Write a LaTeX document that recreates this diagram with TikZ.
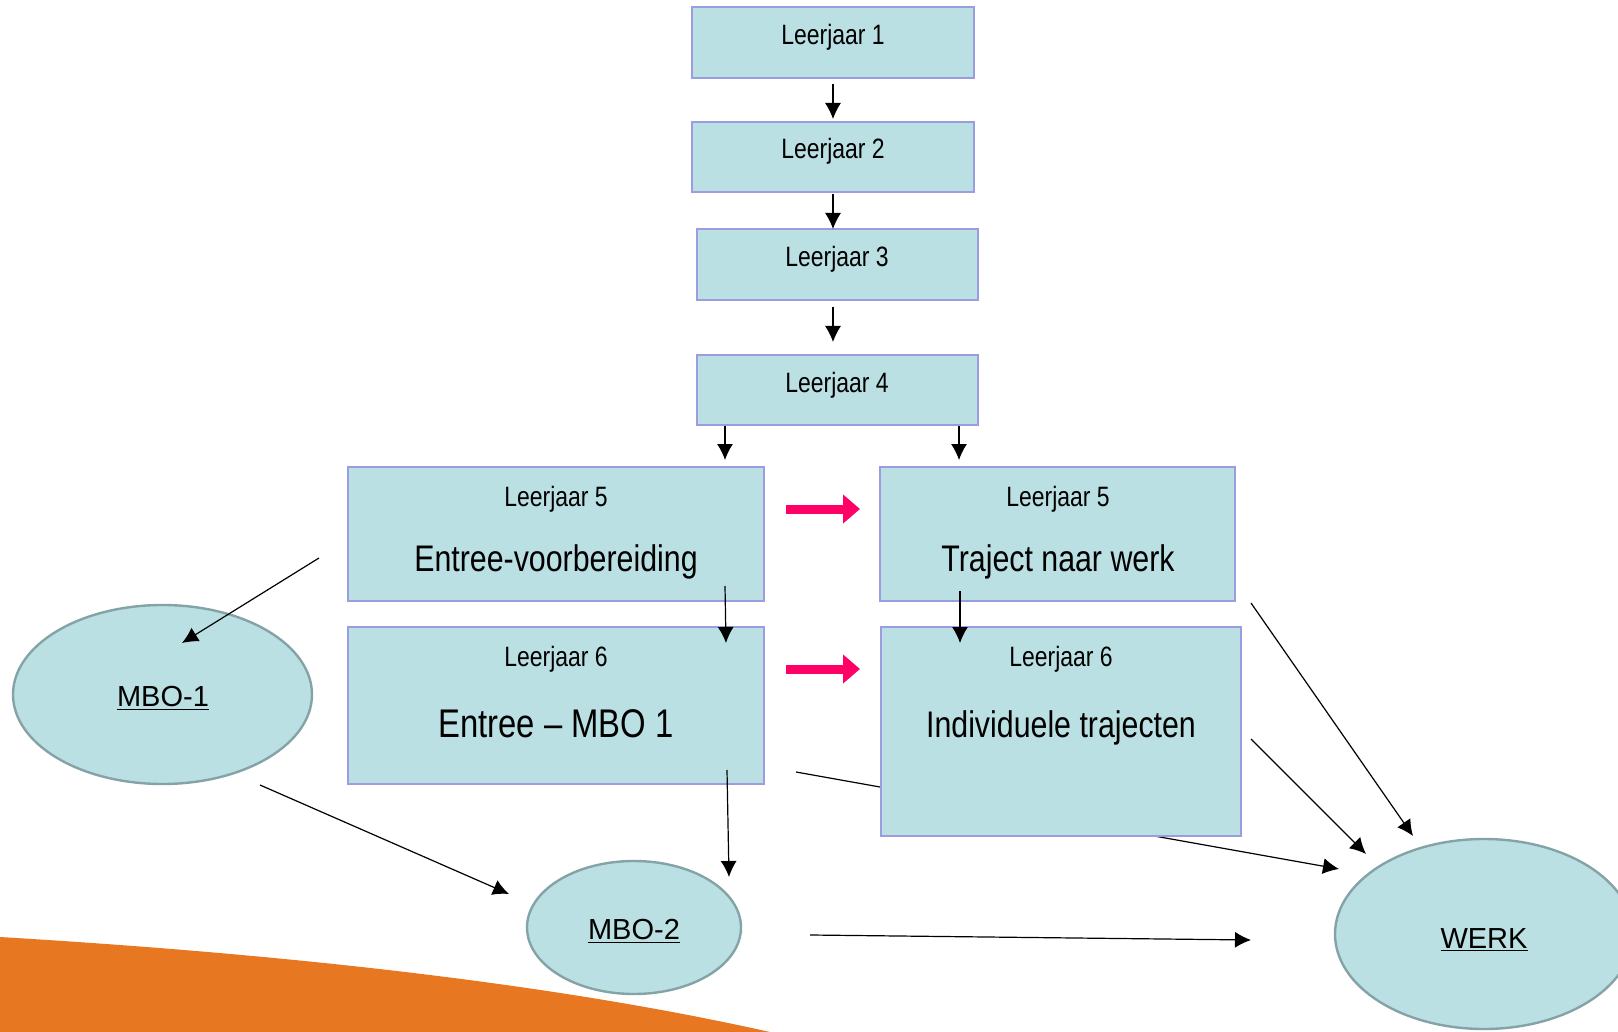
\documentclass[tikz,border=0pt]{standalone}
\usepackage{fontspec}
\setmainfont[FakeStretch=0.82]{Liberation Sans}
\newfontfamily\breedfont{Liberation Sans}
\usetikzlibrary{arrows.meta,shapes.geometric}
\definecolor{vakblauw}{HTML}{BAE0E3}
\definecolor{vakrand}{HTML}{9C9CE0}
\definecolor{ovaalrand}{HTML}{85A3A6}
\definecolor{roze}{HTML}{FF0066}
\definecolor{oranje}{HTML}{E87722}
\tikzset{
  vak/.style={draw=vakrand, fill=vakblauw, line width=1pt, inner sep=0pt, outer sep=0pt},
  ovaal/.style={ellipse, draw=ovaalrand, fill=vakblauw, line width=1.2pt, inner sep=0pt},
  pijl/.style={->, line width=0.6pt},
  dikpijl/.style={-{Triangle[length=8.5pt,width=14pt]}, roze, line width=4.5pt},
  klein/.style={anchor=base, font=\fontsize{14}{16}\selectfont},
  groot/.style={anchor=base, font=\fontsize{18.5}{22}\selectfont},
  onder/.style={anchor=base, font=\breedfont\fontsize{14.5}{17}\selectfont},
}
\begin{document}
\begin{tikzpicture}[x=0.5pt, y=-0.5pt, >={Latex[length=8pt,width=8pt]}]
        \clip (0,0) rectangle (1618,1032);

        % oranje vlak
        \fill[oranje] (0,937) .. controls (300,955) and (560,985) .. (770,1032) -- (0,1032) -- cycle;

        % punten
        \coordinate (v4a) at (725,426);
        \coordinate (t4a) at (725,460);
        \coordinate (v4b) at (959,426);
        \coordinate (t4b) at (959,460);
        \coordinate (v5a) at (725,586);
        \coordinate (t5a) at (726,643);
        \coordinate (v5b) at (960,591);
        \coordinate (t5b) at (960,643);
        \coordinate (s1) at (319,558);
        \coordinate (t1) at (182,643);
        \coordinate (m1) at (260,785);
        \coordinate (t2) at (509,894);
        \coordinate (v6a) at (727,770);
        \coordinate (t6a) at (729,877);
        \coordinate (x1) at (796,772);
        \coordinate (w1) at (1339,869);
        \coordinate (v5w) at (1251,603);
        \coordinate (w2) at (1413,836);
        \coordinate (v6w) at (1251,739);
        \coordinate (w3) at (1366,854);
        \coordinate (m2) at (810,935);
        \coordinate (w4) at (1251,940);

        % lijn achter het vak
        \draw[pijl] (x1) -- (w1);

        % vakken
        \node[vak, minimum width=141pt, minimum height=35.5pt] (l1) at (833,42.5) {};
        \node[vak, minimum width=141pt, minimum height=35pt] (l2) at (833,157) {};
        \node[vak, minimum width=140.5pt, minimum height=35.5pt] (l3) at (837.5,264.5) {};
        \node[vak, minimum width=140.5pt, minimum height=35pt] (l4) at (837.5,390) {};
        \node[vak, minimum width=208pt, minimum height=67pt] (l5a) at (556,534) {};
        \node[vak, minimum width=177.5pt, minimum height=67pt] (l5b) at (1057.5,534) {};
        \node[vak, minimum width=208pt, minimum height=78.5pt] (l6a) at (556,705.5) {};
        \node[vak, minimum width=180pt, minimum height=104.5pt] (l6b) at (1061,731.5) {};

        % ovalen
        \node[ovaal, minimum width=149.5pt, minimum height=89.5pt] (mbo1) at (162.5,694.5) {};
        \node[ovaal, minimum width=107pt, minimum height=66.5pt] (mbo2) at (634,927.5) {};
        \node[ovaal, minimum width=149pt, minimum height=95pt] (werk) at (1484,934) {};

        % teksten
        \node[klein] (t-l1) at (833,45) {Leerjaar 1};
        \node[klein] (t-l2) at (833,159) {Leerjaar 2};
        \node[klein] (t-l3) at (837,267) {Leerjaar 3};
        \node[klein] (t-l4) at (837,393) {Leerjaar 4};
        \node[klein] (t-l5a) at (556,506) {Leerjaar 5};
        \node[groot] (n-l5a) at (556,571) {Entree-voorbereiding};
        \node[klein] (t-l5b) at (1058,506) {Leerjaar 5};
        \node[groot] (n-l5b) at (1058,571) {Traject naar werk};
        \node[klein] (t-l6a) at (556,666) {Leerjaar 6};
        \node[groot, font=\fontsize{20}{24}\selectfont] (n-l6a) at (556,737) {Entree – MBO 1};
        \node[klein] (t-l6b) at (1061,666) {Leerjaar 6};
        \node[groot] (n-l6b) at (1061,737) {Individuele trajecten};
        \node[onder] (t-mbo1) at (163,706) {\underline{MBO-1}};
        \node[onder] (t-mbo2) at (634,939) {\underline{MBO-2}};
        \node[onder] (t-werk) at (1484,948) {\underline{WERK}};

        % pijlen
        \draw[pijl, shorten <=3pt, shorten >=1.5pt] (l1) -- (l2);
        \draw[pijl, shorten <=1pt] (l2.south) -- (l2.south |- l3.north);
        \draw[pijl, shorten <=3.5pt, shorten >=6.5pt] (l2.south |- l3.south) -- (l2.south |- l4.north);
        \draw[pijl] (v4a) -- (t4a);
        \draw[pijl] (v4b) -- (t4b);
        \draw[pijl] (v5a) -- (t5a);
        \draw[pijl] (v5b) -- (t5b);
        \draw[pijl] (s1) -- (t1);
        \draw[pijl] (m1) -- (t2);
        \draw[pijl] (v6a) -- (t6a);
        \draw[pijl] (v5w) -- (w2);
        \draw[pijl] (v6w) -- (w3);
        \draw[pijl] (m2) -- (w4);

        % roze pijlen
        \draw[dikpijl] (786,509) coordinate (r1) -- (860,509) coordinate (r2);
        \draw[dikpijl] (786,669) coordinate (r3) -- (860,669) coordinate (r4);
\end{tikzpicture}
\end{document}
